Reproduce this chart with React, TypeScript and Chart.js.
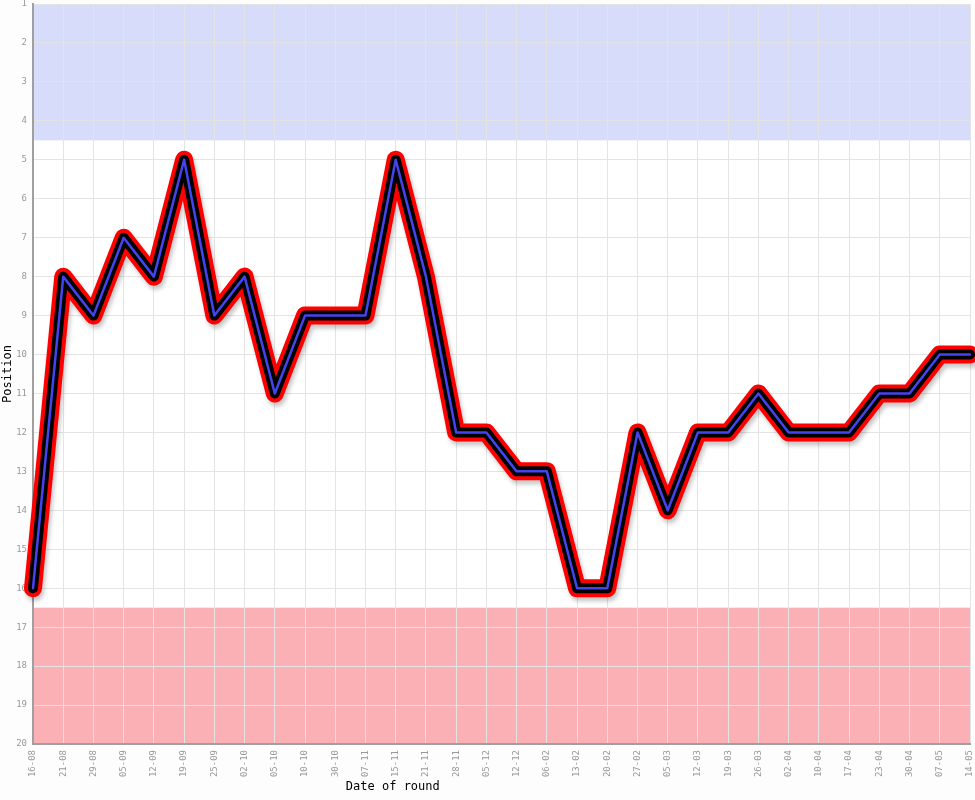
import React, { useEffect, useRef } from "react";
import { Chart, registerables } from "chart.js";

Chart.register(...registerables);

const dates = [
  "16-08", "21-08", "29-08", "05-09", "12-09", "19-09", "25-09", "02-10",
  "05-10", "10-10", "30-10", "07-11", "15-11", "21-11", "28-11", "05-12",
  "12-12", "06-02", "13-02", "20-02", "27-02", "05-03", "12-03", "19-03",
  "26-03", "02-04", "10-04", "17-04", "23-04", "30-04", "07-05", "14-05",
];

const positions = [
  16, 8, 9, 7, 8, 5, 9, 8,
  11, 9, 9, 9, 5, 8, 12, 12,
  13, 13, 16, 16, 12, 14, 12, 12,
  11, 12, 12, 12, 11, 11, 10, 10,
];

const topZone = [1, 4.5];
const bottomZone = [16.5, 20];

const xTitle = "Date of round";
const yTitle = "Position";

const bgPlugin = {
  id: "bgBands",
  beforeDraw(chart: any) {
    const { ctx, chartArea: a, scales } = chart;
    const y = scales.y;
    ctx.save();
    ctx.fillStyle = "#fcfdfc";
    ctx.fillRect(0, 0, chart.width, chart.height);
    ctx.fillStyle = "#ffffff";
    ctx.fillRect(a.left, a.top, a.right - a.left, a.bottom - a.top);
    const t0 = y.getPixelForValue(topZone[0]);
    const t1 = y.getPixelForValue(topZone[1]);
    ctx.fillStyle = "rgb(214,220,249)";
    ctx.fillRect(a.left, t0, a.right - a.left, t1 - t0);
    const b0 = y.getPixelForValue(bottomZone[0]);
    const b1 = y.getPixelForValue(bottomZone[1]);
    ctx.fillStyle = "rgb(250,176,181)";
    ctx.fillRect(a.left, b0, a.right - a.left, b1 - b0);
    ctx.restore();
  },
  beforeDatasetDraw(chart: any, args: any) {
    if (args.index === 0) {
      const ctx = chart.ctx;
      ctx.shadowColor = "rgba(0,0,0,0.22)";
      ctx.shadowOffsetX = 2;
      ctx.shadowOffsetY = 4;
      ctx.shadowBlur = 4;
    }
  },
  afterDatasetDraw(chart: any, args: any) {
    if (args.index === 0) {
      const ctx = chart.ctx;
      ctx.shadowColor = "rgba(0,0,0,0)";
      ctx.shadowOffsetX = 0;
      ctx.shadowOffsetY = 0;
      ctx.shadowBlur = 0;
    }
  },
  afterDraw(chart: any) {
    const { ctx, chartArea: a } = chart;
    ctx.save();
    ctx.fillStyle = "#000000";
    ctx.font = "12px 'DejaVu Sans Mono', monospace";
    ctx.textAlign = "center";
    ctx.textBaseline = "middle";
    ctx.fillText(xTitle, a.left + (a.right - a.left) * 0.384, chart.height - 13);
    ctx.translate(8, (a.top + a.bottom) / 2);
    ctx.rotate(-Math.PI / 2);
    ctx.fillText(yTitle, 0, 0);
    ctx.restore();
  },
};

export default function App() {
  const ref = useRef<HTMLCanvasElement>(null);
  useEffect(() => {
    document.body.style.margin = "0";
    const lineBase = {
      data: positions,
      fill: false,
      pointRadius: 0,
      tension: 0,
      borderJoinStyle: "round" as const,
      borderCapStyle: "round" as const,
    };
    const chart = new Chart(ref.current!, {
      type: "line",
      data: {
        labels: dates,
        datasets: [
          { ...lineBase, label: "outer", borderColor: "#ff0000", borderWidth: 18, order: 3 },
          { ...lineBase, label: "mid", borderColor: "#000000", borderWidth: 10, order: 2 },
          { ...lineBase, label: "inner", borderColor: "#4444ee", borderWidth: 2.5, order: 1 },
        ],
      },
      options: {
        animation: false,
        responsive: false,
        maintainAspectRatio: false,
        layout: { padding: { top: 4, right: 5, left: 0, bottom: 0 } },
        plugins: { legend: { display: false }, tooltip: { enabled: false } },
        scales: {
          x: {
            offset: false,
            grid: { color: "#e4e4e4", drawTicks: false, lineWidth: 1 },
            border: { color: "#a0a0a0", width: 2 },
            ticks: {
              autoSkip: false,
              maxRotation: 90,
              minRotation: 90,
              padding: 6,
              color: "#999999",
              font: { family: "'DejaVu Sans Mono', monospace", size: 9 },
            },
            afterFit(scale: any) {
              scale.height = 56;
              scale.paddingLeft = 0;
              scale.paddingRight = 0;
            },
          },
          y: {
            reverse: true,
            min: 1,
            max: 20,
            grid: { color: "#e4e4e4", drawTicks: false, lineWidth: 1 },
            border: { color: "#a0a0a0", width: 2 },
            ticks: {
              stepSize: 1,
              padding: 6,
              color: "#999999",
              font: { family: "'DejaVu Sans Mono', monospace", size: 9 },
            },
            afterFit(scale: any) {
              scale.width = 33;
              scale.paddingTop = 0;
              scale.paddingBottom = 0;
            },
          },
        },
      },
      plugins: [bgPlugin],
    });
    return () => chart.destroy();
  }, []);
  return (
    <div style={{ width: 975, height: 800 }}>
      <canvas ref={ref} width={975} height={800} style={{ display: "block" }} />
    </div>
  );
}
